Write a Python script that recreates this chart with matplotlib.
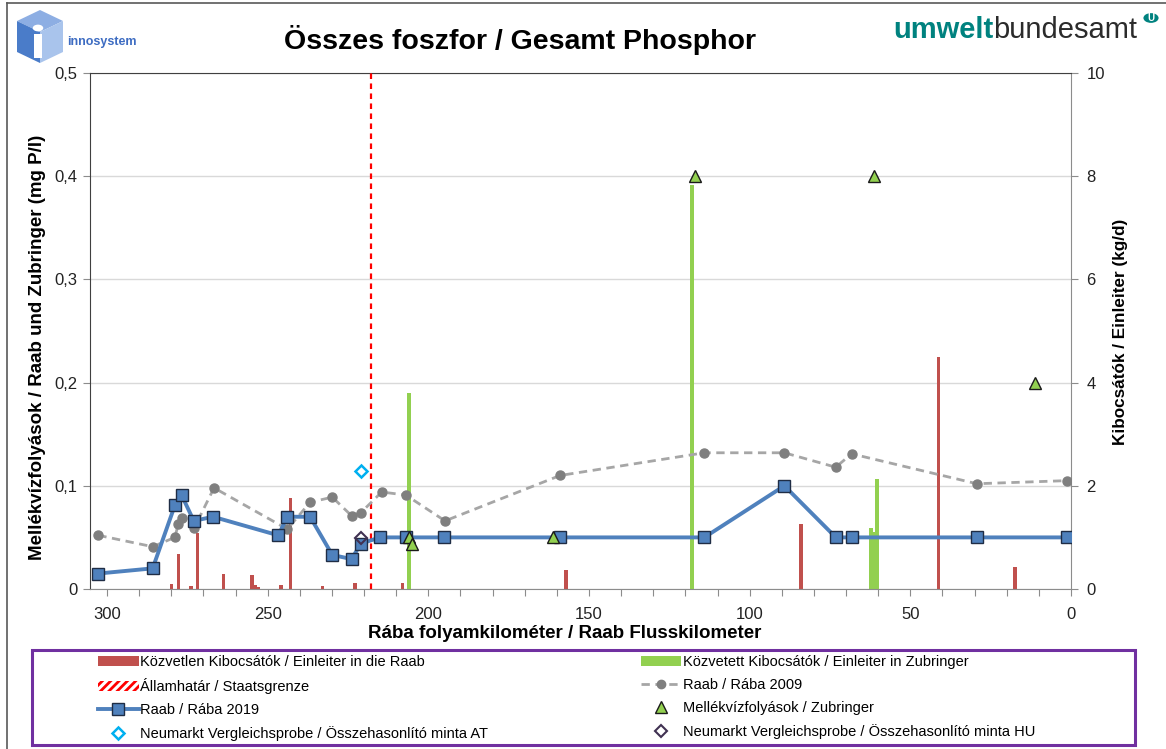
import matplotlib
matplotlib.use("Agg")
import matplotlib.pyplot as plt
from matplotlib.patches import Patch, Polygon, Circle, Rectangle
from matplotlib.lines import Line2D

plt.rcParams['font.family'] = ['Liberation Sans', 'DejaVu Sans']
plt.rcParams['hatch.linewidth'] = 2.0

# Raab / Rába 2019 (mg P/l)
raab2019_km = [302.7, 285.8, 278.9, 276.8, 273.0, 267.0, 246.7, 243.9, 236.8, 229.9, 223.9,
               221.0, 215.0, 207.0, 195.1, 159.0, 114.1, 89.2, 73.2, 68.3, 29.3, 1.3]
raab2019_p = [0.015, 0.020, 0.081, 0.091, 0.066, 0.070, 0.052, 0.070, 0.070, 0.033, 0.029,
              0.044, 0.050, 0.050, 0.050, 0.050, 0.050, 0.100, 0.050, 0.050, 0.050, 0.050]

# Raab / Rába 2009 (mg P/l)
raab2009_km = [302.7, 285.8, 278.9, 277.8, 276.6, 272.9, 266.7, 243.9, 236.8, 229.9, 223.9,
               221.0, 214.5, 207.0, 194.8, 159.0, 114.1, 89.2, 73.2, 68.3, 29.3, 1.3]
raab2009_p = [0.052, 0.041, 0.050, 0.063, 0.069, 0.059, 0.098, 0.058, 0.084, 0.089, 0.071,
              0.074, 0.094, 0.091, 0.066, 0.110, 0.132, 0.132, 0.118, 0.131, 0.102, 0.105]

# direkte Einleiter (kg/d)
direct_km = [279.9, 277.8, 273.9, 271.9, 263.8, 254.9, 253.9, 252.9, 245.9, 242.9, 233.0,
             222.9, 208.0, 157.2, 84.1, 41.3, 17.4]
direct_kgd = [0.10, 0.67, 0.06, 1.09, 0.30, 0.28, 0.08, 0.04, 0.08, 1.76, 0.06,
              0.12, 0.12, 0.37, 1.26, 4.50, 0.42]

# Einleiter in Zubringer (kg/d)
indirect_km = [206.0, 118.0, 62.3, 61.3, 60.3]
indirect_kgd = [3.79, 7.83, 1.18, 1.10, 2.14]

# Zubringer (mg P/l)
trib_km = [206.0, 205.0, 161.1, 117.1, 61.2, 11.3]
trib_p = [0.050, 0.044, 0.050, 0.400, 0.400, 0.200]

# Neumarkt Vergleichsproben
at_km, at_p = [221.0], [0.114]
hu_km, hu_p = [221.0], [0.049]

border_km = 218.0

W, H = 1166, 749
fig = plt.figure(figsize=(W / 100, H / 100), dpi=100)


def fx(x):
    return x / W


def fy(y):
    return 1 - y / H


ax = fig.add_axes([fx(90), fy(589), fx(1071) - fx(90), fy(73) - fy(589)])
ax2 = ax.twinx()
ax.set_zorder(ax2.get_zorder() + 1)
ax.patch.set_visible(False)

# Balken (rechte Achse)
ax2.bar(direct_km, direct_kgd, width=1.1, color='#C0504D', zorder=2)
ax2.bar(indirect_km, indirect_kgd, width=1.2, color='#92D050', zorder=2)
ax2.set_ylim(0, 10)
ax2.set_yticks(range(0, 11, 2))
ax2.yaxis.grid(True, color='#D9D9D9', lw=1)
ax2.set_axisbelow(True)

# Staatsgrenze
ax.axvline(border_km, color='#FF0000', lw=1.6, ls=(0, (2.5, 2)), zorder=3)

# Linien (linke Achse)
ax.plot(raab2009_km, raab2009_p, color='#A6A6A6', lw=2, ls=(0, (3, 2)),
        marker='o', ms=6.5, mfc='#7F7F7F', mec='#7F7F7F', zorder=4)
ax.plot(raab2019_km, raab2019_p, color='#4F81BD', lw=2.8,
        marker='s', ms=8.5, mfc='#4F81BD', mec='#1F2D45', mew=1, zorder=5)
ax.plot(trib_km, trib_p, ls='none', marker='^', ms=8.5, mfc='#92D050',
        mec='#1A1A1A', mew=1, zorder=6)
ax.plot(at_km, at_p, ls='none', marker='D', ms=6.5, mfc='white',
        mec='#00B0F0', mew=1.8, zorder=6)
ax.plot(hu_km, hu_p, ls='none', marker='D', ms=6.5, mfc='none',
        mec='#403152', mew=1.5, zorder=7)

ax.set_xlim(305.3, 0)
ax.set_ylim(0, 0.5)
ax.set_yticks([0, 0.1, 0.2, 0.3, 0.4, 0.5])
ax.set_yticklabels(['0', '0,1', '0,2', '0,3', '0,4', '0,5'])
ax.set_xticks(range(0, 301, 10))
ax.set_xticklabels([str(v) if v % 50 == 0 else '' for v in range(0, 301, 10)])

for a in (ax, ax2):
    for s in a.spines.values():
        s.set_visible(False)
ax.spines['left'].set_visible(True)
ax.spines['left'].set_color('#404040')
ax.spines['top'].set_visible(True)
ax.spines['top'].set_color('#404040')
ax.spines['bottom'].set_visible(True)
ax.spines['bottom'].set_color('#8C8C8C')
ax2.spines['right'].set_visible(True)
ax2.spines['right'].set_color('#8C8C8C')

ax.tick_params(axis='x', direction='out', length=5, color='#8C8C8C', labelsize=12, pad=8,
               labelcolor='#222222')
ax.tick_params(axis='y', direction='out', length=5, color='#8C8C8C', labelsize=12, pad=4,
               labelcolor='#222222')
ax2.tick_params(axis='y', direction='out', length=5, color='#8C8C8C', labelsize=12, pad=6,
                labelcolor='#222222')

# Achsentitel
fig.text(fx(565), fy(634), 'Rába folyamkilométer / Raab Flusskilometer', ha='center',
         va='center', fontsize=13.5, fontweight='bold')
fig.text(fx(38), fy(347), 'Mellékvízfolyások / Raab und Zubringer (mg P/l)', ha='center',
         va='center', rotation=90, fontsize=13.5, fontweight='bold')
fig.text(fx(1121), fy(332), 'Kibocsátók / Einleiter (kg/d)', ha='center',
         va='center', rotation=90, fontsize=12.3, fontweight='bold')

# Titel
fig.text(fx(520), fy(40), 'Összes foszfor / Gesamt Phosphor', ha='center', va='center',
         fontsize=20.5, fontweight='bold')

# Rahmen
fig.add_artist(Line2D([fx(7), 1], [fy(3), fy(3)], color='#595959', lw=1.2))
fig.add_artist(Line2D([fx(7), fx(7)], [0, fy(3)], color='#595959', lw=1.2))

# innosystem Logo
top, ul, ur, c = (40, 10), (17, 21), (63, 21), (40, 32)
ll, lr, bot = (17, 52), (63, 52), (40, 63)
faces = [([top, ur, c, ul], '#8DAEE3'), ([ul, c, bot, ll], '#4A7CC9'),
         ([c, ur, lr, bot], '#A9C4EC')]
for pts, col in faces:
    fig.add_artist(Polygon([(fx(x), fy(y)) for x, y in pts], closed=True,
                           facecolor=col, edgecolor='none', transform=fig.transFigure))
fig.add_artist(Rectangle((fx(34), fy(58)), fx(8), fy(34) - fy(58), facecolor='white',
                         edgecolor='none', transform=fig.transFigure))
fig.add_artist(Circle((fx(38), fy(28)), 0.0045, facecolor='white', edgecolor='none',
                      transform=fig.transFigure))
fig.text(fx(67), fy(42), 'innosystem', ha='left', va='center', fontsize=9,
         fontweight='bold', color='#3D6CC2')

# umweltbundesamt Logo
t1 = fig.text(fx(893), fy(30), 'umwelt', ha='left', va='center', fontsize=21,
              fontweight='bold', color='#00827F')
fig.canvas.draw()
bb = t1.get_window_extent(renderer=fig.canvas.get_renderer())
fig.text(bb.x1 / W, fy(30), 'bundesamt', ha='left', va='center', fontsize=21,
         color='#2B2B2B')
fig.add_artist(Circle((fx(1151), fy(18)), 0.0065, facecolor='#00827F', edgecolor='none',
                      transform=fig.transFigure))
fig.text(fx(1151), fy(18), 'U', ha='center', va='center', fontsize=7, fontweight='bold',
         color='white')

# Legende
handles = [
    Patch(facecolor='#C0504D', edgecolor='none'),
    Patch(facecolor='white', edgecolor='#FF0000', hatch='////', lw=0),
    Line2D([], [], color='#4F81BD', lw=2.8, marker='s', ms=8.5, mfc='#4F81BD', mec='#1F2D45'),
    Line2D([], [], ls='none', marker='D', ms=6, mfc='white', mec='#00B0F0', mew=1.8),
    Patch(facecolor='#92D050', edgecolor='none'),
    Line2D([], [], color='#A6A6A6', lw=2, ls=(0, (3, 2)), marker='o', ms=6,
           mfc='#7F7F7F', mec='#7F7F7F'),
    Line2D([], [], ls='none', marker='^', ms=8, mfc='#92D050', mec='#1A1A1A'),
    Line2D([], [], ls='none', marker='D', ms=6, mfc='white', mec='#403152', mew=1.5),
]
labels = [
    'Közvetlen Kibocsátók / Einleiter in die Raab',
    'Államhatár / Staatsgrenze',
    'Raab / Rába 2019',
    'Neumarkt Vergleichsprobe / Összehasonlító minta AT',
    'Közvetett Kibocsátók / Einleiter in Zubringer',
    'Raab / Rába 2009',
    'Mellékvízfolyások / Zubringer',
    'Neumarkt Vergleichsprobe / Összehasonlító minta HU',
]
fig.legend(handles, labels, ncol=2, loc='center left', bbox_to_anchor=(fx(92), fy(698)),
           borderaxespad=0, frameon=False, handlelength=2.8, handletextpad=0.1,
           columnspacing=10.45, labelspacing=0.62, prop={'size': 10.5})
fig.add_artist(Rectangle((fx(32), fy(745)), fx(1135) - fx(32), fy(650) - fy(745),
                         facecolor='none', edgecolor='#7030A0', lw=2.2,
                         transform=fig.transFigure))

fig.savefig('out.png', dpi=100)
